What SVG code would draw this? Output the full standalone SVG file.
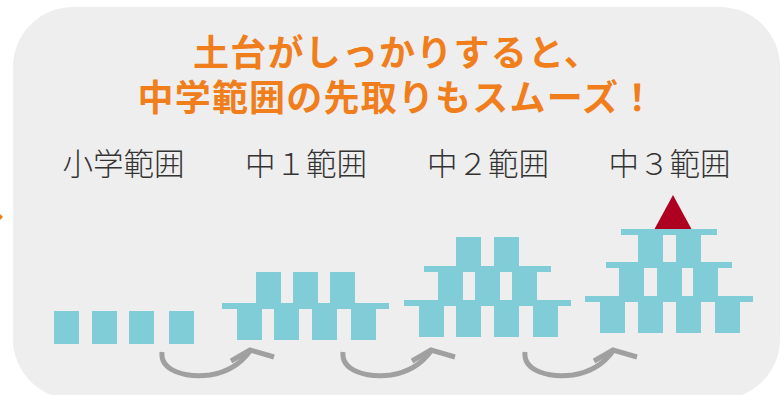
<svg xmlns="http://www.w3.org/2000/svg" width="784" height="395" viewBox="0 0 784 395">
  <defs>
    <style>
      .bg { fill: #EEEEEE; }
      .title { font-family: "Noto Sans CJK JP", "Noto Sans", sans-serif; font-weight: 700; font-size: 36px; fill: #F07E1C; letter-spacing: 1.2px; text-anchor: middle; }
      .label { font-family: "Noto Sans CJK JP", "Noto Sans", sans-serif; font-weight: 300; font-size: 30.5px; fill: #333333; text-anchor: middle; }
      .blk { fill: #80CDD7; }
      .tri { fill: #AE0021; }
      .arr { fill: none; stroke: #A0A0A0; stroke-width: 5; }
    </style>
    <g id="arrowShape">
      <path class="arr" d="M162 352 C160 371 186 378 210 375 C229 372 242 362 250 351"/>
      <path class="arr" d="M231 361 L250 350 L274 357"/>
    </g>
  </defs>

  <rect class="bg" x="13" y="7" width="767" height="392" rx="60" ry="60"/>
  <polygon points="-3,211 3,217 -3,223" fill="#F07E1C"/>

  <g id="title">
    <text class="title" x="397" y="65.5">土台がしっかりすると、</text>
    <text class="title" x="397" y="110.5">中学範囲の先取りもスムーズ！</text>
  </g>

  <g id="stage-elementary">
    <text class="label" x="123.5" y="175">小学範囲</text>
    <rect class="blk" x="54" y="311" width="25" height="33"/>
    <rect class="blk" x="92" y="311" width="25" height="33"/>
    <rect class="blk" x="129" y="311" width="25" height="33"/>
    <rect class="blk" x="169" y="311" width="25" height="33"/>
  </g>

  <g id="stage-jh1">
    <text class="label" x="306" y="175">中１範囲</text>
    <rect class="blk" x="256" y="272" width="25" height="32"/>
    <rect class="blk" x="293" y="272" width="25" height="32"/>
    <rect class="blk" x="330" y="272" width="25" height="32"/>
    <rect class="blk" x="222" y="303" width="167" height="6"/>
    <rect class="blk" x="237" y="308" width="25" height="32"/>
    <rect class="blk" x="274" y="308" width="25" height="32"/>
    <rect class="blk" x="312" y="308" width="25" height="32"/>
    <rect class="blk" x="351" y="308" width="25" height="32"/>
  </g>

  <g id="stage-jh2">
    <text class="label" x="488" y="175">中２範囲</text>
    <rect class="blk" x="456" y="237" width="25" height="30"/>
    <rect class="blk" x="494" y="237" width="25" height="30"/>
    <rect class="blk" x="424" y="266" width="127" height="6"/>
    <rect class="blk" x="438" y="271" width="25" height="30"/>
    <rect class="blk" x="475" y="271" width="25" height="30"/>
    <rect class="blk" x="512" y="271" width="25" height="30"/>
    <rect class="blk" x="404" y="300" width="167" height="6"/>
    <rect class="blk" x="419" y="305" width="25" height="32"/>
    <rect class="blk" x="456" y="305" width="25" height="32"/>
    <rect class="blk" x="494" y="305" width="25" height="32"/>
    <rect class="blk" x="533" y="305" width="25" height="32"/>
  </g>

  <g id="stage-jh3">
    <text class="label" x="669.5" y="175">中３範囲</text>
    <polygon class="tri" points="673,195 654,230 692,230"/>
    <rect class="blk" x="621" y="229" width="96" height="6"/>
    <rect class="blk" x="638" y="234" width="25" height="29"/>
    <rect class="blk" x="676" y="234" width="25" height="29"/>
    <rect class="blk" x="606" y="262" width="126" height="6"/>
    <rect class="blk" x="619" y="267" width="25" height="30"/>
    <rect class="blk" x="657" y="267" width="25" height="30"/>
    <rect class="blk" x="693" y="267" width="25" height="30"/>
    <rect class="blk" x="585" y="296" width="168" height="6"/>
    <rect class="blk" x="600" y="301" width="25" height="32"/>
    <rect class="blk" x="638" y="301" width="25" height="32"/>
    <rect class="blk" x="676" y="301" width="25" height="32"/>
    <rect class="blk" x="715" y="301" width="25" height="32"/>
  </g>

  <g id="connectors">
    <use href="#arrowShape"/>
    <use href="#arrowShape" transform="translate(181,0)"/>
    <use href="#arrowShape" transform="translate(363,0)"/>
  </g>
</svg>
